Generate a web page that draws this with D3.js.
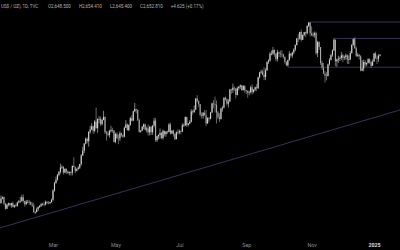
<!DOCTYPE html>
<html>
<head>
<meta charset="utf-8">
<script src="https://cdn.jsdelivr.net/npm/d3@7"></script>
<style>
  html, body { margin: 0; padding: 0; background: #000; }
  svg { display: block; }
</style>
</head>
<body>
<div id="chart"></div>
<script>
// daily candles, TVC gold, 11 Jan 2024 .. 8 Jan 2025
const firstDay = "2024-01-11";
const lastDay = "2025-01-08";
const holidays = ["2024-03-29", "2024-12-25", "2025-01-01"];
const firstOpen = 2024;

const closes = [
  // Jan
  2029, 2049, 2055, 2028, 2006, 2023, 2029, 2021, 2029, 2014, 2020, 2018, 2032, 2037, 2039,
  // Feb
  2054, 2039, 2025, 2035, 2035, 2034, 2024, 2020, 1992, 1992, 2004, 2013, 2018, 2025, 2026, 2024, 2035, 2031, 2030, 2034, 2044,
  // Mar
  2083, 2115, 2128, 2148, 2160, 2179, 2182, 2158, 2174, 2162, 2156, 2160, 2157, 2186, 2181, 2165, 2172, 2179, 2194, 2230,
  // Apr
  2250, 2280, 2300, 2290, 2329, 2339, 2352, 2333, 2372, 2344, 2383, 2383, 2361, 2379, 2391, 2327, 2322, 2316, 2332, 2337, 2335, 2286,
  // May
  2320, 2303, 2302, 2323, 2314, 2309, 2346, 2360, 2336, 2358, 2386, 2376, 2415, 2425, 2421, 2379, 2329, 2334, 2350, 2360, 2338, 2343, 2327,
  // Jun
  2350, 2327, 2355, 2376, 2294, 2311, 2316, 2324, 2303, 2333, 2319, 2330, 2328, 2360, 2322, 2334, 2320, 2298, 2327, 2326,
  // Jul
  2332, 2330, 2356, 2356, 2392, 2358, 2364, 2371, 2415, 2411, 2422, 2469, 2458, 2445, 2400, 2396, 2409, 2398, 2364, 2387, 2384, 2410, 2448,
  // Aug
  2446, 2443, 2410, 2390, 2383, 2427, 2431, 2472, 2465, 2447, 2456, 2507, 2504, 2514, 2512, 2484, 2512, 2518, 2524, 2504, 2521, 2503,
  // Sep
  2500, 2493, 2495, 2516, 2497, 2506, 2516, 2512, 2558, 2578, 2582, 2569, 2559, 2587, 2622, 2628, 2657, 2657, 2672, 2658, 2634,
  // Oct
  2663, 2658, 2656, 2653, 2644, 2622, 2608, 2630, 2657, 2649, 2662, 2674, 2693, 2721, 2720, 2748, 2715, 2736, 2747, 2743, 2774, 2788, 2743,
  // Nov
  2736, 2736, 2743, 2659, 2706, 2685, 2618, 2598, 2573, 2565, 2563, 2612, 2631, 2651, 2670, 2716, 2625, 2633, 2636, 2639, 2650,
  // Dec
  2640, 2643, 2650, 2632, 2633, 2660, 2694, 2718, 2680, 2648, 2652, 2646, 2586, 2594, 2622, 2612, 2618, 2634, 2621, 2606, 2624,
  // Jan 2025
  2658, 2640, 2636, 2648, 2652.81
];

const highs = [
  2040, 2062, 2058, 2057, 2031, 2027, 2032, 2031, 2031, 2036, 2023, 2028, 2036, 2043, 2056,
  2065, 2066, 2039, 2043, 2043, 2044, 2037, 2033, 2031, 1996, 2011, 2016, 2022, 2031, 2030, 2035, 2041, 2038, 2038, 2036, 2048,
  2088, 2119, 2141, 2152, 2165, 2195, 2189, 2184, 2175, 2174, 2167, 2163, 2163, 2188, 2222, 2183, 2176, 2185, 2195, 2236,
  2266, 2281, 2305, 2305, 2331, 2354, 2365, 2356, 2378, 2431, 2386, 2395, 2393, 2385, 2417, 2393, 2333, 2332, 2338, 2353, 2346, 2336,
  2326, 2327, 2317, 2331, 2326, 2318, 2351, 2378, 2365, 2359, 2392, 2400, 2418, 2450, 2426, 2423, 2385, 2337, 2354, 2364, 2364, 2351, 2360,
  2354, 2354, 2357, 2388, 2387, 2313, 2318, 2343, 2328, 2339, 2334, 2333, 2334, 2365, 2368, 2336, 2338, 2323, 2331, 2339,
  2339, 2335, 2365, 2364, 2392, 2389, 2366, 2378, 2424, 2422, 2440, 2470, 2483, 2461, 2446, 2411, 2412, 2421, 2420, 2390, 2392, 2413, 2451,
  2462, 2477, 2460, 2417, 2406, 2430, 2438, 2474, 2477, 2470, 2466, 2509, 2510, 2531, 2520, 2510, 2519, 2521, 2528, 2526, 2525, 2525,
  2506, 2504, 2503, 2523, 2529, 2508, 2519, 2529, 2560, 2581, 2590, 2590, 2600, 2596, 2625, 2634, 2664, 2670, 2685, 2675, 2659,
  2673, 2666, 2670, 2672, 2656, 2645, 2625, 2633, 2668, 2660, 2665, 2680, 2696, 2722, 2740, 2749, 2758, 2737, 2748, 2750, 2775, 2789, 2790,
  2772, 2746, 2750, 2749, 2711, 2709, 2685, 2627, 2618, 2584, 2579, 2615, 2639, 2656, 2675, 2721, 2713, 2636, 2648, 2645, 2665,
  2657, 2649, 2657, 2655, 2650, 2668, 2697, 2721, 2726, 2687, 2660, 2656, 2651, 2630, 2632, 2630, 2620, 2638, 2637, 2627, 2633,
  2660, 2665, 2650, 2655, 2654.41
];

const lows = [
  2013, 2029, 2046, 2021, 2002, 2005, 2016, 2016, 2010, 2012, 2009, 2013, 2015, 2029, 2031,
  2035, 2031, 2015, 2022, 2030, 2022, 2021, 2013, 1990, 1984, 1991, 1996, 2009, 2013, 2020, 2016, 2020, 2025, 2025, 2025, 2031,
  2039, 2078, 2111, 2124, 2142, 2154, 2173, 2150, 2155, 2152, 2152, 2146, 2146, 2146, 2180, 2155, 2163, 2171, 2173, 2187,
  2228, 2240, 2276, 2280, 2267, 2321, 2336, 2320, 2326, 2343, 2325, 2365, 2354, 2356, 2377, 2320, 2292, 2310, 2305, 2326, 2325, 2285,
  2281, 2296, 2277, 2291, 2308, 2303, 2306, 2345, 2335, 2332, 2354, 2373, 2373, 2412, 2406, 2374, 2326, 2325, 2333, 2340, 2334, 2326, 2314,
  2314, 2315, 2316, 2348, 2287, 2286, 2298, 2301, 2298, 2296, 2310, 2308, 2320, 2327, 2317, 2319, 2309, 2294, 2298, 2318,
  2318, 2319, 2327, 2350, 2353, 2349, 2352, 2360, 2368, 2401, 2410, 2420, 2452, 2433, 2393, 2385, 2384, 2398, 2353, 2363, 2372, 2381, 2408,
  2428, 2410, 2364, 2382, 2370, 2380, 2414, 2427, 2460, 2440, 2431, 2455, 2488, 2492, 2500, 2470, 2482, 2503, 2509, 2500, 2502, 2493,
  2488, 2472, 2483, 2490, 2485, 2491, 2500, 2500, 2509, 2553, 2572, 2566, 2546, 2546, 2585, 2614, 2624, 2650, 2651, 2644, 2625,
  2624, 2643, 2641, 2641, 2636, 2615, 2605, 2603, 2628, 2640, 2640, 2655, 2667, 2692, 2705, 2715, 2708, 2715, 2730, 2727, 2737, 2769, 2730,
  2730, 2728, 2724, 2652, 2643, 2672, 2610, 2589, 2573, 2536, 2545, 2562, 2607, 2628, 2644, 2668, 2605, 2602, 2618, 2626, 2630,
  2621, 2630, 2632, 2614, 2614, 2630, 2657, 2690, 2677, 2643, 2643, 2632, 2583, 2583, 2583, 2602, 2604, 2616, 2614, 2597, 2608,
  2624, 2635, 2614, 2623, 2645.4
];

// horizontal levels drawn on the chart
const levelPrices = [2790, 2721, 2600];
const levelStarts = ["2024-10-31", "2024-11-22", "2024-10-10"];

// rising trendline, two anchors
const trendDates = ["2024-01-11", "2025-01-08"];
const trendPrices = [1925, 2396];

const tickMonths = ["2024-03", "2024-05", "2024-07", "2024-09", "2024-11", "2025-01"];
const tickLabels = ["Mar", "May", "Jul", "Sep", "Nov", "2025"];

const legendTitle = "US$ / OZ), 1D, TVC";
const legendKeys = ["O", "H", "L", "C"];
const legendValues = [2648.5, 2654.41, 2645.4, 2652.81];
const legendChange = 4.625;
const legendPct = 0.17;

// ---- trading calendar
const fmtDay = d3.timeFormat("%Y-%m-%d");
const fmtMonth = d3.timeFormat("%Y-%m");
const parseDay = d3.timeParse("%Y-%m-%d");
const days = d3.timeDay.range(parseDay(firstDay), d3.timeDay.offset(parseDay(lastDay), 1))
  .filter(d => d.getDay() !== 0 && d.getDay() !== 6 && !holidays.includes(fmtDay(d)));

const candles = days.map((d, i) => ({
  date: d,
  open: i === 0 ? firstOpen : (i === days.length - 1 ? legendValues[0] : closes[i - 1]),
  high: highs[i],
  low: lows[i],
  close: closes[i]
}));

const dayIndex = s => days.findIndex(d => fmtDay(d) === s);

const width = 400;
const height = 250;

const svg = d3.select("#chart")
  .append("svg")
  .attr("width", width)
  .attr("height", height)
  .style("background", "#000");

const xScale = d3.scaleLinear()
  .domain([0, days.length - 1])
  .range([-0.5, 380]);

const yScale = d3.scaleLinear()
  .domain([1984, 2790])
  .range([214, 22]);

const lineColor = "#34345a";

// levels
svg.append("g")
  .selectAll("line")
  .data(levelPrices)
  .join("line")
  .attr("x1", (d, i) => xScale(dayIndex(levelStarts[i])))
  .attr("x2", width)
  .attr("y1", d => yScale(d))
  .attr("y2", d => yScale(d))
  .attr("stroke", lineColor)
  .attr("stroke-width", 1);

// trendline, extended to the right edge
const tx = trendDates.map(dayIndex).map(xScale);
const ty = trendPrices.map(yScale);
const slope = (ty[1] - ty[0]) / (tx[1] - tx[0]);
svg.append("line")
  .attr("x1", 0)
  .attr("y1", ty[0] + slope * (0 - tx[0]))
  .attr("x2", width)
  .attr("y2", ty[0] + slope * (width - tx[0]))
  .attr("stroke", lineColor)
  .attr("stroke-width", 1);

// candles
const upColor = "#d4d4d4";
const downColor = "#a8a8a8";
const bodyW = 1.1;

const g = svg.append("g");
g.selectAll("line.wick")
  .data(candles)
  .join("line")
  .attr("class", "wick")
  .attr("x1", (d, i) => xScale(i))
  .attr("x2", (d, i) => xScale(i))
  .attr("y1", d => yScale(d.high))
  .attr("y2", d => yScale(d.low))
  .attr("stroke", d => d.close >= d.open ? upColor : downColor)
  .attr("stroke-width", 0.6);

g.selectAll("rect.body")
  .data(candles)
  .join("rect")
  .attr("class", "body")
  .attr("x", (d, i) => xScale(i) - bodyW / 2)
  .attr("width", bodyW)
  .attr("y", d => yScale(Math.max(d.open, d.close)))
  .attr("height", d => Math.max(0.6, Math.abs(yScale(d.open) - yScale(d.close))))
  .attr("fill", d => d.close >= d.open ? upColor : downColor);

// x axis
const tickIdx = tickMonths.map(m => days.findIndex(d => fmtMonth(d) === m));
const xAxis = d3.axisBottom(xScale)
  .tickValues(tickIdx)
  .tickFormat((d, i) => tickLabels[i])
  .tickSize(0)
  .tickPadding(0);

const gX = svg.append("g")
  .attr("transform", "translate(0, 243)")
  .call(xAxis);
gX.select(".domain").remove();
gX.selectAll("text")
  .style("font-family", "Roboto, 'Liberation Sans', sans-serif")
  .style("font-size", "5.3px")
  .attr("fill", (d, i) => i === tickLabels.length - 1 ? "#d8d8d8" : "#8c8c8c")
  .style("font-weight", (d, i) => i === tickLabels.length - 1 ? "bold" : "normal");

// legend header
const header = svg.append("g")
  .style("font-family", "Roboto, 'Liberation Sans', sans-serif")
  .style("font-size", "4.5px")
  .attr("fill", "#b4b4b4");

header.append("text")
  .attr("x", 1)
  .attr("y", 7.8)
  .text(legendTitle);

const fmtVal = d3.format(",.3f");
const items = legendKeys.map((k, i) => k + fmtVal(legendValues[i]))
  .concat(["+" + d3.format(".3f")(legendChange) + " (+" + d3.format(".2f")(legendPct) + "%)"]);

let cursor = 48;
items.forEach(s => {
  const t = header.append("text")
    .attr("x", cursor)
    .attr("y", 7.8)
    .text(s);
  cursor += t.node().getComputedTextLength() + 8;
});
</script>
</body>
</html>
